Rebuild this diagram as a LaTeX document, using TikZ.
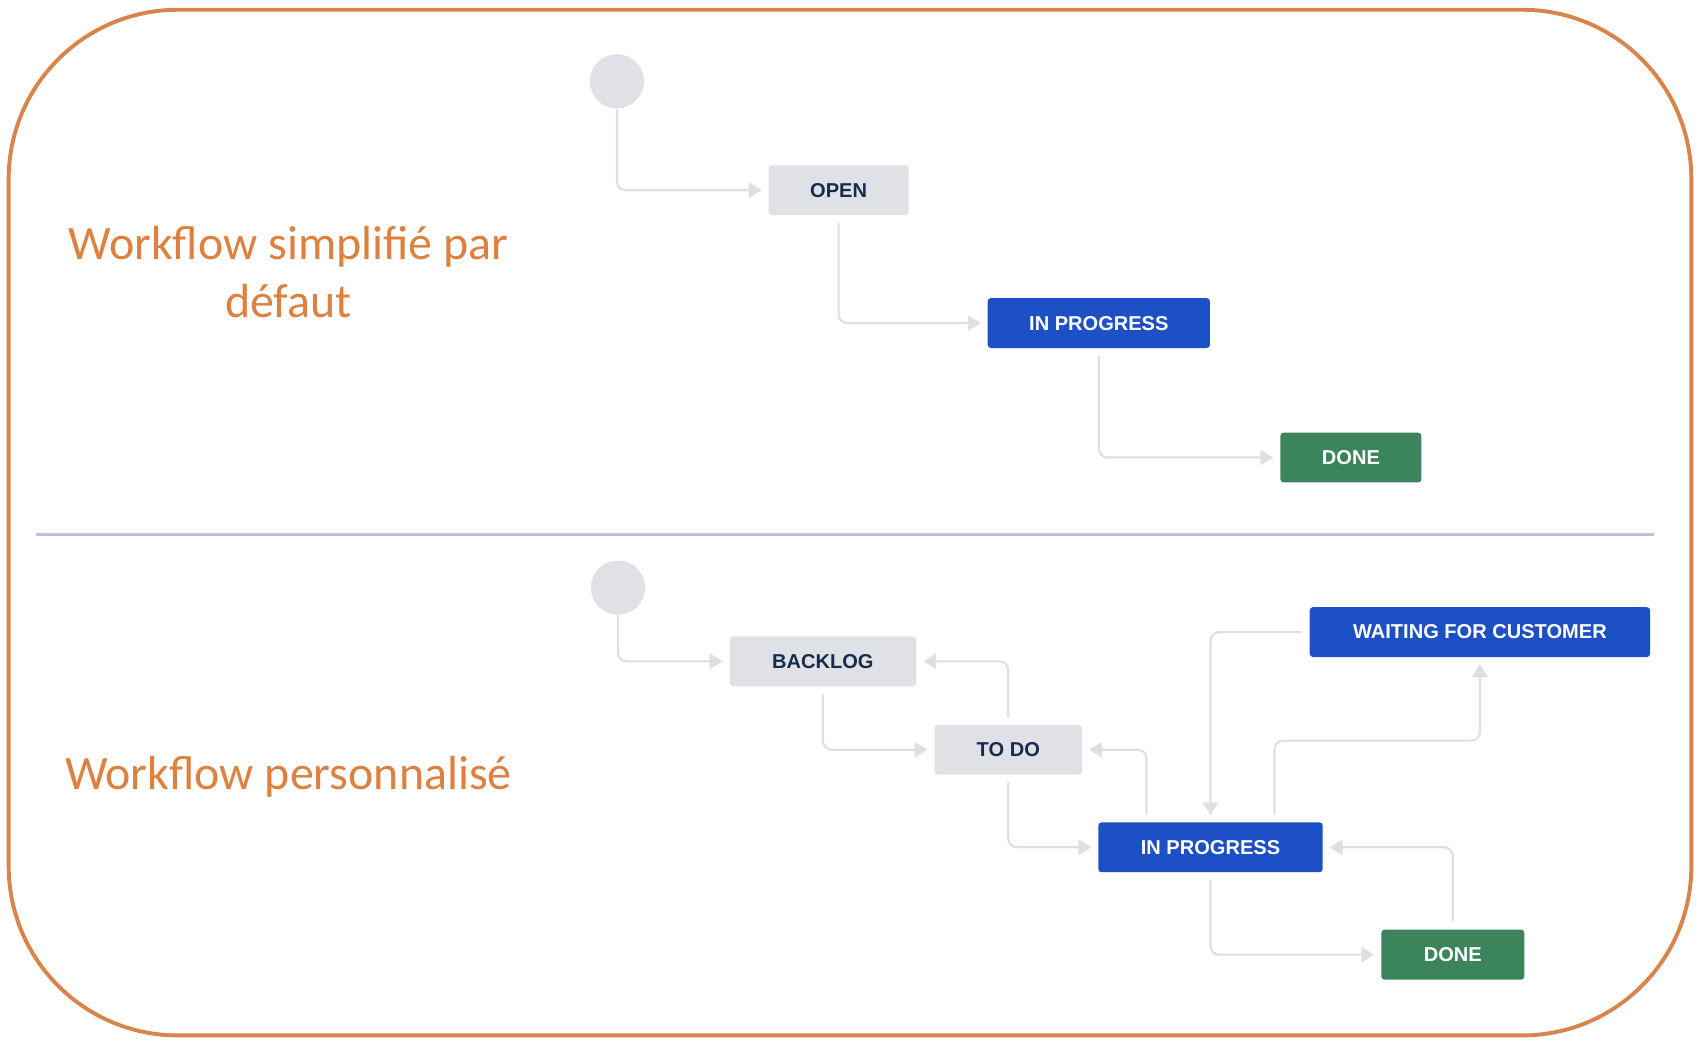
\documentclass[tikz,border=0pt]{standalone}
\usepackage{fontspec}
\setmainfont{Liberation Sans}
\newfontfamily\titlefont{Carlito}
\usetikzlibrary{arrows.meta}
\definecolor{frameorange}{RGB}{216,132,74}
\definecolor{titleorange}{RGB}{222,128,62}
\definecolor{rulegrey}{RGB}{184,194,222}
\definecolor{stategrey}{RGB}{223,225,230}
\definecolor{statetext}{RGB}{23,43,77}
\definecolor{stateblue}{RGB}{30,80,197}
\definecolor{stategreen}{RGB}{60,132,92}
\definecolor{flowgrey}{RGB}{221,223,228}

\begin{document}
\begin{tikzpicture}[x=0.5pt,y=-0.5pt,
every node/.style={font=\bfseries\fontsize{9.25}{11}\selectfont,anchor=center},
state/.style={rectangle,rounded corners=1.5pt,minimum height=23pt,inner sep=0pt},
todostate/.style={state,fill=stategrey,text=statetext},
progstate/.style={state,fill=stateblue,text=white},
donestate/.style={state,fill=stategreen,text=white},
startstate/.style={circle,fill=stategrey,minimum size=25pt,inner sep=0pt},
flow/.style={draw=flowgrey,line width=1pt,rounded corners=4pt,shorten >=3pt,
  -{Triangle[length=6pt,width=7pt]}},
frombox/.style={shorten <=3.5pt},
title/.style={font=\titlefont\fontsize{22.1}{26.5}\selectfont,text=titleorange,align=center}]
\useasboundingbox (0,0) rectangle (1568,965);
\draw[frameorange,line width=1.8pt,rounded corners=78pt] (8,9) rectangle (1560,955);
\draw[rulegrey,line width=1pt] (33,493) -- (1526,493);
% default workflow
\node[title] (t1) at (266,251) {Workflow simplifié par\\défaut};
\node[startstate] (s1) at (569,75) {};
\node[todostate,minimum width=64.5pt] (open) at (773.5,175.5) {OPEN};
\node[progstate,minimum width=102.5pt] (prog1) at (1013.5,298) {IN PROGRESS};
\node[donestate,minimum width=65pt] (done1) at (1246,422) {DONE};
\draw[flow] (s1.south) |- (open.west);
\draw[flow,frombox] (open.south) |- (prog1.west);
\draw[flow,frombox] (prog1.south) |- (done1.west);
% custom workflow
\node[title] (t2) at (266,716) {Workflow personnalisé};
\node[startstate] (s2) at (570,542) {};
\node[todostate,minimum width=86pt] (backlog) at (759,610) {BACKLOG};
\node[todostate,minimum width=68pt] (todo) at (930,691.5) {TO DO};
\node[progstate,minimum width=103.5pt] (prog2) at (1116.5,781.5) {IN PROGRESS};
\node[progstate,minimum width=157pt] (wait) at (1365,583) {WAITING FOR CUSTOMER};
\node[donestate,minimum width=66pt] (done2) at (1340,880.5) {DONE};
\draw[flow] (s2.south) |- (backlog.west);
\draw[flow,frombox] (backlog.south) |- (todo.west);
\draw[flow,frombox] (todo.north) |- (backlog.east);
\draw[flow,frombox] (todo.south) |- (prog2.west);
\draw[flow,frombox] ([xshift=-29.5pt]prog2.north) |- (todo.east);
\draw[flow,frombox] (wait.west) -| (prog2.north);
\draw[flow,frombox] ([xshift=29.5pt]prog2.north) -- ++(0,37.5pt) -| (wait.south);
\draw[flow,frombox] (done2.north) |- (prog2.east);
\draw[flow,frombox] (prog2.south) |- (done2.west);
\end{tikzpicture}
\end{document}
